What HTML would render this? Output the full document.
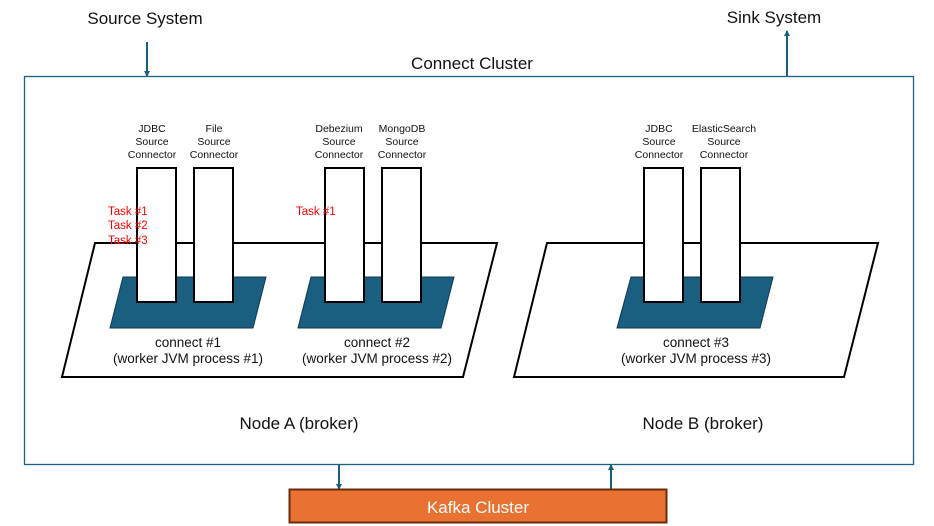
<!DOCTYPE html>
<html><head><meta charset="utf-8"><style>
html,body{margin:0;padding:0;background:#fff;width:934px;height:526px;overflow:hidden}
svg text{font-family:"Liberation Sans","Noto Sans CJK KR",sans-serif;}
</style></head><body>
<svg width="934" height="526" viewBox="0 0 934 526" xmlns="http://www.w3.org/2000/svg">
<defs><marker id="a" markerWidth="6" markerHeight="6" refX="5" refY="3" orient="auto" markerUnits="userSpaceOnUse"><path d="M0,0 L6,3 L0,6z" fill="#1a5e80"/></marker></defs>
<rect x="24.5" y="76.5" width="889" height="388" fill="#fff" stroke="#1a6283" stroke-width="1.3"/>
<text x="145" y="24" font-size="17" text-anchor="middle" fill="#111">Source System</text>
<text x="774" y="23" font-size="17" text-anchor="middle" fill="#111">Sink System</text>
<text x="472" y="69" font-size="17" text-anchor="middle" fill="#111">Connect Cluster</text>
<line x1="147" y1="42" x2="147" y2="76" stroke="#1a5e80" stroke-width="2" marker-end="url(#a)"/>
<line x1="787" y1="76" x2="787" y2="31" stroke="#1a5e80" stroke-width="2" marker-end="url(#a)"/>
<line x1="339" y1="465" x2="339" y2="489" stroke="#1a5e80" stroke-width="2" marker-end="url(#a)"/>
<line x1="611" y1="489" x2="611" y2="465" stroke="#1a5e80" stroke-width="2" marker-end="url(#a)"/>
<polygon points="95,243 497,243 463,377 62,377" fill="#fff" stroke="#000" stroke-width="2"/>
<polygon points="547,243 878,243 844,377 514,377" fill="#fff" stroke="#000" stroke-width="2"/>
<polygon points="123,277 266,277 253,328 110,328" fill="#1a5e80" stroke="#0e3a50" stroke-width="1"/>
<polygon points="311,277 454,277 441,328 298,328" fill="#1a5e80" stroke="#0e3a50" stroke-width="1"/>
<polygon points="631,277 773,277 760,328 617,328" fill="#1a5e80" stroke="#0e3a50" stroke-width="1"/>
<g fill="#fff" stroke="#000" stroke-width="2">
<rect x="137" y="168" width="39" height="134"/><rect x="194" y="168" width="39" height="134"/>
<rect x="325" y="168" width="39" height="134"/><rect x="382" y="168" width="39" height="134"/>
<rect x="644" y="168" width="39" height="134"/><rect x="701" y="168" width="39" height="134"/>
</g>
<g font-size="10.5" text-anchor="middle" fill="#111">
<text x="152" y="132">JDBC</text><text x="152" y="145">Source</text><text x="152" y="158">Connector</text>
<text x="214" y="132">File</text><text x="214" y="145">Source</text><text x="214" y="158">Connector</text>
<text x="339" y="132">Debezium</text><text x="339" y="145">Source</text><text x="339" y="158">Connector</text>
<text x="402" y="132">MongoDB</text><text x="402" y="145">Source</text><text x="402" y="158">Connector</text>
<text x="659" y="132">JDBC</text><text x="659" y="145">Source</text><text x="659" y="158">Connector</text>
<text x="724" y="132">ElasticSearch</text><text x="724" y="145">Source</text><text x="724" y="158">Connector</text>
</g>
<g font-size="11.5" fill="#ff0000">
<text x="108" y="215">Task #1</text><text x="108" y="229">Task #2</text><text x="108" y="244">Task #3</text>
<text x="296" y="215">Task #1</text>
</g>
<g font-size="13.5" text-anchor="middle" fill="#111">
<text x="188" y="347">connect #1</text><text x="188" y="363">(worker JVM process #1)</text>
<text x="377" y="347">connect #2</text><text x="377" y="363">(worker JVM process #2)</text>
<text x="696" y="347">connect #3</text><text x="696" y="363">(worker JVM process #3)</text>
</g>
<text x="299" y="429" font-size="17" text-anchor="middle" fill="#111">Node A (broker)</text>
<text x="703" y="429" font-size="17" text-anchor="middle" fill="#111">Node B (broker)</text>
<rect x="289.5" y="489.5" width="377" height="33" fill="#e97132" stroke="#6b2c0c" stroke-width="2"/>
<text x="478" y="513" font-size="17" text-anchor="middle" fill="#fff">Kafka Cluster</text>
</svg>
</body></html>
